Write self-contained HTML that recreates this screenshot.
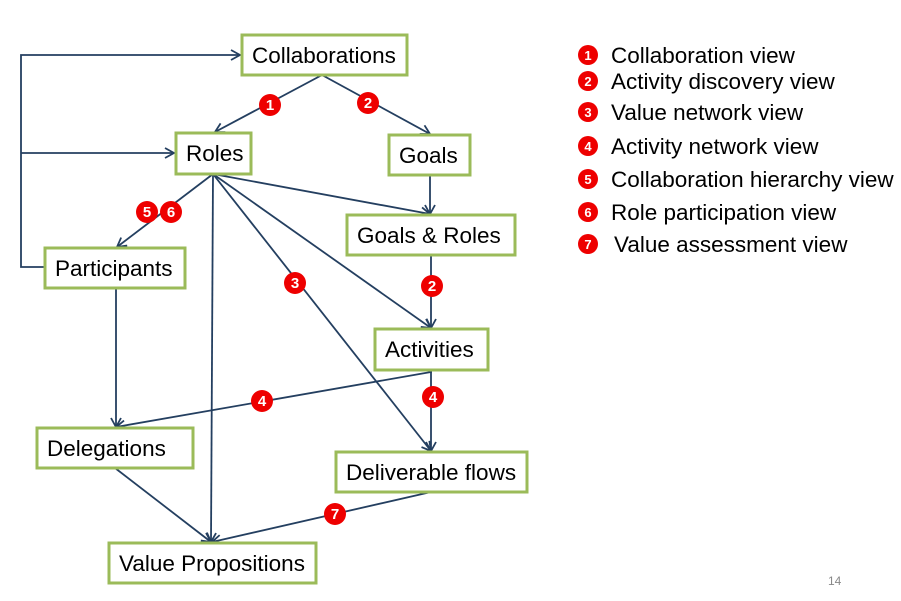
<!DOCTYPE html><html><head><style>body{margin:0;background:#fff}svg text{font-family:"Liberation Sans",sans-serif}</style></head><body>
<svg width="901" height="596" viewBox="0 0 901 596" xmlns="http://www.w3.org/2000/svg">
<defs><marker id="a" markerWidth="12" markerHeight="12" refX="10" refY="6" orient="auto" markerUnits="userSpaceOnUse"><path d="M1,1 L10,6 L1,11" fill="none" stroke="#243F60" stroke-width="1.8"/></marker></defs>
<g stroke="#243F60" stroke-width="1.8" fill="none">
<polyline points="45,267 21,267 21,55 240,55" marker-end="url(#a)"/>
<line x1="21" y1="153" x2="174" y2="153" marker-end="url(#a)"/>
<line x1="322" y1="75" x2="215" y2="132" marker-end="url(#a)"/>
<line x1="322" y1="75" x2="430" y2="134" marker-end="url(#a)"/>
<line x1="430" y1="175" x2="430" y2="214" marker-end="url(#a)"/>
<line x1="213" y1="174" x2="430" y2="214" marker-end="url(#a)"/>
<line x1="213" y1="174" x2="117" y2="247" marker-end="url(#a)"/>
<line x1="213" y1="174" x2="211" y2="542" marker-end="url(#a)"/>
<line x1="213" y1="174" x2="431" y2="328" marker-end="url(#a)"/>
<line x1="213" y1="174" x2="431" y2="451" marker-end="url(#a)"/>
<line x1="431" y1="255" x2="431" y2="328" marker-end="url(#a)"/>
<line x1="116" y1="288" x2="116" y2="427" marker-end="url(#a)"/>
<polyline points="431,370 431,372 116,427" marker-end="url(#a)"/>
<line x1="431" y1="370" x2="431" y2="451" marker-end="url(#a)"/>
<line x1="115" y1="468" x2="211" y2="542" marker-end="url(#a)"/>
<line x1="431" y1="492" x2="212" y2="542" marker-end="url(#a)"/>
</g>
<g fill="#fff" stroke="#9BBB59" stroke-width="3">
<rect x="242" y="35" width="165" height="40"/><rect x="176" y="133" width="75" height="41"/>
<rect x="389" y="135" width="81" height="40"/><rect x="347" y="215" width="168" height="40"/>
<rect x="45" y="248" width="140" height="40"/><rect x="375" y="329" width="113" height="41"/>
<rect x="37" y="428" width="156" height="40"/><rect x="336" y="452" width="191" height="40"/>
<rect x="109" y="543" width="207" height="40"/>
</g>
<g font-size="22.5" fill="#000">
<text x="252" y="63">Collaborations</text><text x="186" y="161">Roles</text><text x="399" y="163">Goals</text>
<text x="357" y="243">Goals &amp; Roles</text><text x="55" y="276">Participants</text><text x="385" y="357">Activities</text>
<text x="47" y="456">Delegations</text><text x="346" y="480">Deliverable flows</text><text x="119" y="571">Value Propositions</text>
</g>
<g font-size="15" font-weight="bold" text-anchor="middle">
<g fill="#E00"><circle cx="270" cy="105" r="11"/><circle cx="368" cy="103" r="11"/><circle cx="147" cy="212" r="11"/><circle cx="171" cy="212" r="11"/><circle cx="295" cy="283" r="11"/><circle cx="432" cy="286" r="11"/><circle cx="262" cy="401" r="11"/><circle cx="433" cy="397" r="11"/><circle cx="335" cy="514" r="11"/></g>
<g fill="#fff"><text x="270" y="110">1</text><text x="368" y="108">2</text><text x="147" y="217">5</text><text x="171" y="217">6</text><text x="295" y="288">3</text><text x="432" y="291">2</text><text x="262" y="406">4</text><text x="433" y="402">4</text><text x="335" y="519">7</text></g>
</g>
<g font-size="13" font-weight="bold" text-anchor="middle">
<g fill="#E00"><circle cx="588" cy="55" r="10"/><circle cx="588" cy="81" r="10"/><circle cx="588" cy="112" r="10"/><circle cx="588" cy="146" r="10"/><circle cx="588" cy="179" r="10"/><circle cx="588" cy="212" r="10"/><circle cx="588" cy="244" r="10"/></g>
<g fill="#fff"><text x="588" y="60">1</text><text x="588" y="86">2</text><text x="588" y="117">3</text><text x="588" y="151">4</text><text x="588" y="184">5</text><text x="588" y="217">6</text><text x="588" y="249">7</text></g>
</g>
<g font-size="22.5" fill="#000">
<text x="611" y="63">Collaboration view</text><text x="611" y="89">Activity discovery view</text><text x="611" y="120">Value network view</text>
<text x="611" y="154">Activity network view</text><text x="611" y="187">Collaboration hierarchy view</text><text x="611" y="220">Role participation view</text><text x="614" y="252">Value assessment view</text>
</g>
<text x="828" y="585" font-size="12" fill="#888">14</text>
</svg></body></html>
